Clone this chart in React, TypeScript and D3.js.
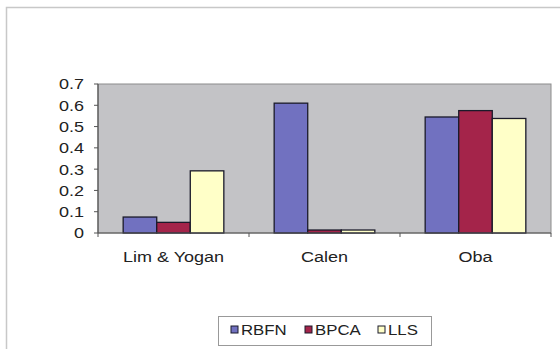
import React from "react";
import * as d3 from "d3";

const categories = ["Lim & Yogan", "Calen", "Oba"];
const seriesNames = ["RBFN", "BPCA", "LLS"];
const rbfn = [0.075, 0.61, 0.545];
const bpca = [0.05, 0.014, 0.575];
const lls = [0.292, 0.014, 0.538];
const yTicks = [0, 0.1, 0.2, 0.3, 0.4, 0.5, 0.6, 0.7];
const colors = ["#7171C0", "#A4244A", "#FFFFC8"];

const W = 560;
const H = 349;
const plot = { left: 98, right: 551, top: 84, bottom: 233 };
const font = "Arial, 'Liberation Sans', sans-serif";
const stretch = 1.2;

// Wide-set label: Arial stretched horizontally around its anchor point
function Label({ x, y, anchor = "start", size = 15, dy, children }: any) {
  return (
    <text
      transform={`translate(${x},${y}) scale(${stretch},1)`}
      textAnchor={anchor}
      dy={dy}
      fontSize={size}
      fill="#222"
    >
      {children}
    </text>
  );
}

export default function App() {
  const series = [rbfn, bpca, lls];
  const x = d3.scaleBand<string>().domain(categories).range([plot.left, plot.right]);
  const y = d3.scaleLinear().domain([0, 0.7]).range([plot.bottom, plot.top]);
  // Excel-like gap: bar width = band / (n + 1.5)
  const barW = x.bandwidth() / (series.length + 1.5);
  const groupW = barW * series.length;

  const legend = { x: 218, y: 316, w: 213, h: 29 };
  const legendText = [241, 315, 388];

  return (
    <svg
      width={W}
      height={H}
      style={{ position: "absolute", left: 0, top: 0, background: "#fff" }}
      fontFamily={font}
    >
      {/* chart frame */}
      <rect x={6.5} y={7.5} width={W} height={H} fill="none" stroke="#c8c8c8" strokeWidth={1.5} />

      {/* plot area */}
      <rect
        x={plot.left}
        y={plot.top}
        width={plot.right - plot.left}
        height={plot.bottom - plot.top}
        fill="#C3C3C6"
        stroke="#8c8c8c"
        strokeWidth={1}
      />

      {/* bars */}
      {categories.map((c, ci) => {
        const x0 = (x(c) as number) + (x.bandwidth() - groupW) / 2;
        return series.map((s, si) => (
          <rect
            key={c + si}
            x={x0 + si * barW}
            y={y(s[ci])}
            width={barW}
            height={y(0) - y(s[ci])}
            fill={colors[si]}
            stroke="#1a1a2a"
            strokeWidth={1.3}
          />
        ));
      })}

      {/* y axis */}
      <line x1={plot.left} x2={plot.left} y1={plot.top} y2={plot.bottom} stroke="#555" strokeWidth={1.2} />
      {yTicks.map((t) => (
        <g key={t}>
          <line x1={plot.left - 4} x2={plot.left} y1={y(t)} y2={y(t)} stroke="#555" />
          <Label x={84} y={y(t)} dy="0.36em" anchor="end" size={15}>
            {t === 0 ? "0" : t.toFixed(1)}
          </Label>
        </g>
      ))}

      {/* x axis */}
      <line x1={plot.left} x2={plot.right} y1={plot.bottom} y2={plot.bottom} stroke="#555" strokeWidth={1.2} />
      {d3.range(categories.length + 1).map((i) => {
        const xx = plot.left + i * x.step();
        return <line key={i} x1={xx} x2={xx} y1={plot.bottom} y2={plot.bottom + 4} stroke="#555" />;
      })}
      {categories.map((c) => (
        <Label key={c} x={(x(c) as number) + x.bandwidth() / 2} y={262} anchor="middle" size={15}>
          {c}
        </Label>
      ))}

      {/* legend */}
      <rect x={legend.x + 0.5} y={legend.y + 0.5} width={legend.w} height={legend.h} fill="#fff" stroke="#999" />
      {seriesNames.map((n, i) => (
        <g key={n}>
          <rect x={legendText[i] - 10} y={326} width={7} height={7} fill={colors[i]} stroke="#1a1a2a" />
          <Label x={legendText[i]} y={334.5} size={14}>
            {n}
          </Label>
        </g>
      ))}
    </svg>
  );
}
